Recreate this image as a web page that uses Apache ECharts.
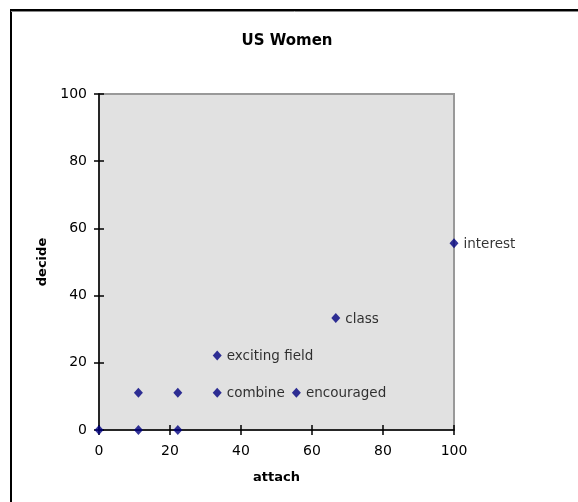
<!DOCTYPE html>
<html><head><meta charset="utf-8">
<script src="https://cdn.jsdelivr.net/npm/echarts@6/dist/echarts.min.js"></script>
<style>html,body{margin:0;padding:0;background:#fff}#c{width:578px;height:502px}</style>
</head><body><div id="c"></div>
<script>
const attachVals = [0, 11.1, 22.2, 11.1, 22.2, 33.3, 33.3, 55.6, 66.7, 100];
const decideVals = [0, 0, 0, 11.1, 11.1, 11.1, 22.2, 11.1, 33.3, 55.6];
const pointLabels = ['', '', '', '', '', 'combine', 'exciting field', 'encouraged', 'class', 'interest'];
const xTicks = [0, 20, 40, 60, 80, 100];
const yTicks = [0, 20, 40, 60, 80, 100];
const titleText = 'US Women';
const xName = 'attach';
const yName = 'decide';

const chart = echarts.init(document.getElementById('c'));
const font = 'Geneva, "DejaVu Sans", Verdana, sans-serif';
const gridPos = {left: 99, right: 124, top: 94, bottom: 72};
const data = attachVals.map((x, i) => ({value: [x, decideVals[i]], name: pointLabels[i]}));
const baseAxis = {min: 0, max: 100, interval: 20};
chart.setOption({
  animation: false,
  title: {text: titleText, left: 282, top: 29, textAlign: 'center',
    textStyle: {fontFamily: font, fontSize: 15, fontWeight: 'bold', color: '#000'}},
  graphic: [
    {type: 'polyline', shape: {points: [[11, 502], [11, 10], [578, 10]]},
     style: {stroke: '#000', lineWidth: 2, fill: null}, z: 10},
    {type: 'polyline', shape: {points: [[11, 11.5], [578, 11.5]]},
     style: {stroke: '#888', lineWidth: 1, fill: null}, z: 10}
  ],
  grid: [Object.assign({show: true, backgroundColor: '#E1E1E1', borderColor: '#999', borderWidth: 2}, gridPos),
         Object.assign({show: false}, gridPos)],
  xAxis: [
    Object.assign({type: 'value', gridIndex: 0, name: xName, nameLocation: 'middle', nameGap: 41,
      nameTextStyle: {fontFamily: font, fontSize: 13, fontWeight: 'bold', color: '#000'},
      axisLine: {show: true, onZero: false, lineStyle: {color: '#000', width: 1.5}},
      axisTick: {show: true, length: 5, lineStyle: {color: '#000', width: 1.5}},
      axisLabel: {fontFamily: font, fontSize: 14, color: '#000', margin: 14,
        formatter: v => xTicks.includes(v) ? String(v) : ''},
      splitLine: {show: false}}, baseAxis),
    Object.assign({type: 'value', gridIndex: 1,
      axisLine: {show: false}, axisTick: {show: true, inside: true, length: 5, lineStyle: {color: '#000', width: 1.5}},
      axisLabel: {show: false}, splitLine: {show: false}}, baseAxis)
  ],
  yAxis: [
    Object.assign({type: 'value', gridIndex: 0, name: yName, nameLocation: 'middle', nameGap: 47, nameRotate: 90,
      nameTextStyle: {fontFamily: font, fontSize: 13, fontWeight: 'bold', color: '#000'},
      axisLine: {show: true, onZero: false, lineStyle: {color: '#000', width: 1.5}},
      axisTick: {show: true, length: 5, lineStyle: {color: '#000', width: 1.5}},
      axisLabel: {fontFamily: font, fontSize: 14, color: '#000', margin: 12,
        formatter: v => yTicks.includes(v) ? String(v) : ''},
      splitLine: {show: false}}, baseAxis),
    Object.assign({type: 'value', gridIndex: 1,
      axisLine: {show: false}, axisTick: {show: true, inside: true, length: 5, lineStyle: {color: '#000', width: 1.5}},
      axisLabel: {show: false}, splitLine: {show: false}}, baseAxis)
  ],
  series: [{
    type: 'scatter', xAxisIndex: 0, yAxisIndex: 0, data: data,
    symbol: 'diamond', symbolSize: [9, 10], z: 20,
    itemStyle: {color: '#000080'},
    label: {show: true, position: 'right', distance: 5, formatter: p => p.name,
      fontFamily: font, fontSize: 13.5, color: '#000', offset: [0, 1]},
    clip: false
  }]
});
</script></body></html>
